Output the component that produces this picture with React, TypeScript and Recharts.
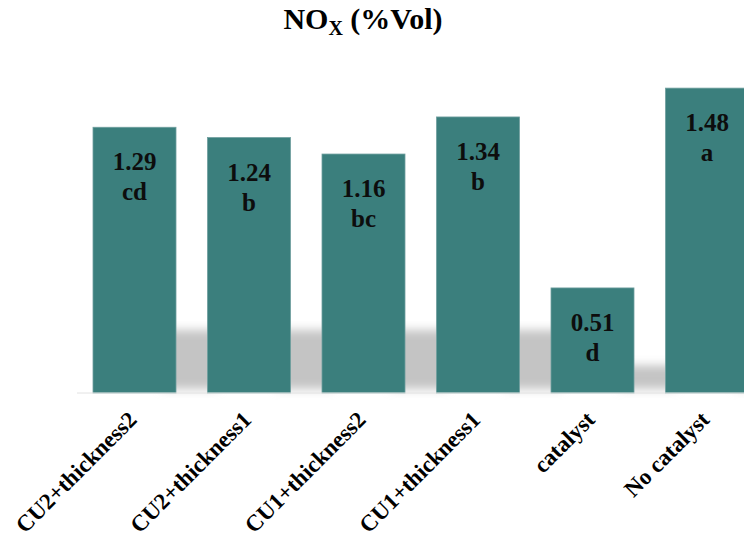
import React from "react";
import { BarChart, Bar, XAxis, YAxis, LabelList } from "recharts";

// Treatments along the x axis
const categories = [
  "CU2+thickness2",
  "CU2+thickness1",
  "CU1+thickness2",
  "CU1+thickness1",
  "catalyst",
  "No catalyst",
];
// NOx concentration (%Vol) for each treatment
const noxValues = [1.29, 1.24, 1.16, 1.34, 0.51, 1.48];
// Significance groups printed under each value
const groupLetters = ["cd", "b", "bc", "b", "d", "a"];

const data = categories.map((name, i) => ({
  name,
  nox: noxValues[i],
  group: groupLetters[i],
}));

const FONT = '"Liberation Serif", "Times New Roman", serif';
const BAR_COLOR = "#3b7f7d";

// Bar with a soft floor shadow cast to its right
const ShadowBar = (props: any) => {
  const { x, y, width, height, index } = props;
  const base = y + height;
  const sh = Math.min(height * 0.31, 68);
  const fid = `floor-shadow-${index}`;
  return (
    <g>
      <defs>
        <filter id={fid} x="-50%" y="-50%" width="200%" height="200%">
          <feGaussianBlur stdDeviation="5" />
        </filter>
      </defs>
      <rect
        x={x + width - 14}
        y={base - sh + 5}
        width={56}
        height={sh - 9}
        fill="#c4c4c4"
        filter={`url(#${fid})`}
      />
      <rect
        x={x}
        y={y}
        width={width}
        height={height}
        fill={BAR_COLOR}
        stroke="#6f9f9e"
        strokeWidth={0.8}
      />
    </g>
  );
};

// Value and group letter stacked inside the top of each bar
const BarText = (props: any) => {
  const { x, y, width, index } = props;
  const cx = x + width / 2;
  return (
    <g>
      <text
        x={cx}
        y={y + 43}
        textAnchor="middle"
        fontFamily={FONT}
        fontWeight="bold"
        fontSize={25}
        fill="#0d0d0d"
      >
        {noxValues[index].toFixed(2)}
      </text>
      <text
        x={cx}
        y={y + 73}
        textAnchor="middle"
        fontFamily={FONT}
        fontWeight="bold"
        fontSize={25}
        fill="#0d0d0d"
      >
        {groupLetters[index]}
      </text>
    </g>
  );
};

const AngledTick = (props: any) => {
  const { x, y, payload } = props;
  const tx = x + 4;
  const ty = y + 28;
  return (
    <text
      x={tx}
      y={ty}
      textAnchor="end"
      transform={`rotate(-45 ${tx} ${ty})`}
      fontFamily={FONT}
      fontWeight="bold"
      fontSize={23}
      fill="#000"
    >
      {payload.value}
    </text>
  );
};

export default function App() {
  return (
    <div style={{ position: "relative", width: 744, height: 531 }}>
      <BarChart
        width={744}
        height={531}
        data={data}
        margin={{ top: 76, right: -12, bottom: 0, left: 69 }}
        barSize={83}
      >
        <XAxis
          dataKey="name"
          interval={0}
          height={146}
          tickSize={0}
          tickMargin={0}
          tickLine={false}
          axisLine={{ stroke: "#e2e2e2" }}
          tick={<AngledTick />}
        />
        <YAxis hide domain={[0, 1.5]} />
        <Bar dataKey="nox" shape={<ShadowBar />} isAnimationActive={false}>
          <LabelList dataKey="nox" content={<BarText />} />
        </Bar>
      </BarChart>
      <svg
        width={744}
        height={60}
        style={{ position: "absolute", left: 0, top: -8, pointerEvents: "none" }}
      >
        <text
          x={355}
          y={29}
          textAnchor="middle"
          fontFamily={FONT}
          fontWeight="bold"
          fontSize={30}
          fill="#000"
        >
          NO
          <tspan fontSize={20} dy={6}>
            X
          </tspan>
          <tspan dy={-6}> (%Vol)</tspan>
        </text>
      </svg>
    </div>
  );
}
